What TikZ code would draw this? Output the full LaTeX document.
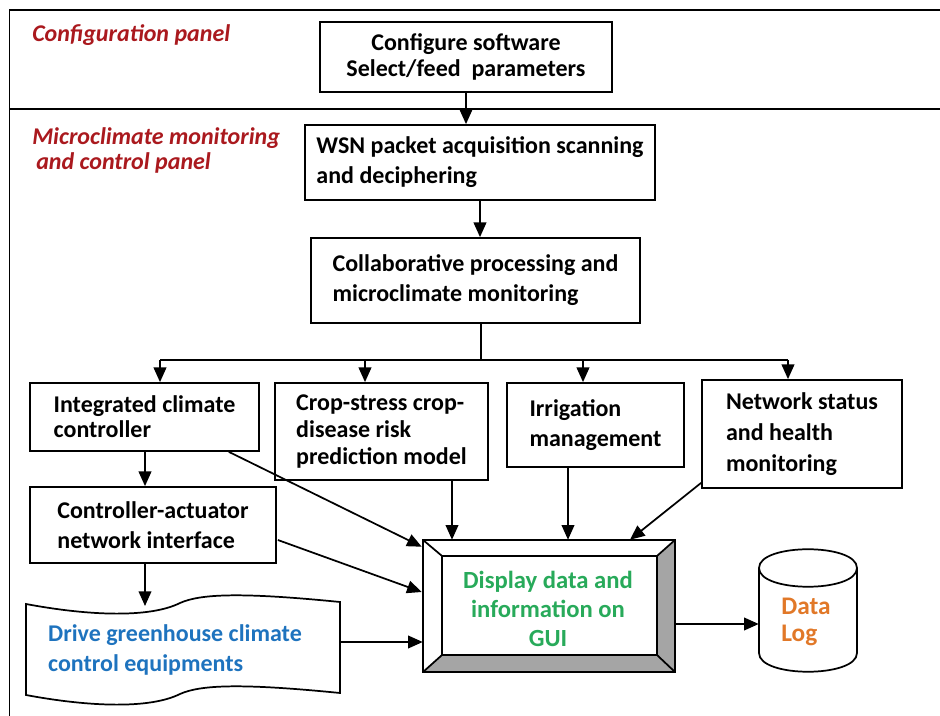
\documentclass[tikz,border=0pt]{standalone}
\usepackage{fontspec}
\setmainfont{Carlito}
\usetikzlibrary{arrows.meta,calc}
\definecolor{lblred}{RGB}{170,25,30}
\definecolor{guigreen}{RGB}{40,170,90}
\definecolor{drvblue}{RGB}{30,115,190}
\definecolor{logorange}{RGB}{225,120,40}
\definecolor{bevelgray}{RGB}{165,165,165}
\begin{document}
\begin{tikzpicture}[x=0.75pt,y=-0.75pt,
  box/.style={draw, line width=1.3pt, align=left, font=\bfseries\fontsize{18}{22.5}\selectfont, inner sep=0pt},
  lbl/.style={font=\bfseries\itshape\fontsize{18}{20}\selectfont, text=lblred, inner sep=0pt, anchor=west},
  arr/.style={line width=1.3pt, -{Triangle[length=11pt,width=9.5pt]}},
  ln/.style={line width=1.3pt}]
\useasboundingbox (0,0) rectangle (940,716);

% frame
\draw[ln] (9.5,716) -- (9.5,10) -- (940,10);
\draw[ln] (9.5,109) -- (940,109);

% panel labels
\node[lbl] (cfgpanel) at (32,35) {Configuration panel};
\node[lbl] (mcpanel) at (32,138) {Microclimate monitoring};
\node[lbl] (mcpanel2) at (36,163) {and control panel};

% boxes
\node[box, align=center, minimum width=219pt, minimum height=52.5pt,
      font=\bfseries\fontsize{18}{19.5}\selectfont] (cfg) at (466,57) {Configure software\\Select/feed\ \ parameters};
\node[box, minimum width=262.5pt, minimum height=56.25pt] (wsn) at (480,162.5) {WSN packet acquisition scanning\\and deciphering};
\node[box, minimum width=246.75pt, minimum height=63.75pt] (col) at (475.5,280.5) {Collaborative processing and\\microclimate monitoring};
\node[box, minimum width=171.75pt, minimum height=51pt,
      font=\bfseries\fontsize{18}{19}\selectfont] (icc) at (144.5,417) {Integrated climate\\controller};
\node[box, minimum width=159.75pt, minimum height=72.75pt,
      font=\bfseries\fontsize{18}{20.25}\selectfont] (crop) at (381.5,431.5) {Crop-stress crop-\\disease risk\\prediction model};
\node[box, minimum width=132.75pt, minimum height=63pt] (irr) at (595.5,425) {Irrigation\\management};
\node[box, minimum width=150pt, minimum height=81pt,
      font=\bfseries\fontsize{18}{23.25}\selectfont] (net) at (802,434) {Network status\\and health\\monitoring};
\node[box, minimum width=184.5pt, minimum height=57pt] (cai) at (153,525) {Controller-actuator\\network interface};

% GUI bevel box
\node[minimum width=189pt, minimum height=99pt, inner sep=0pt] (gui) at (549,606) {};
\coordinate (gi1) at ($(gui.north west)+(19,16)$);
\coordinate (gi2) at ($(gui.north east)+(-18,16)$);
\coordinate (gi3) at ($(gui.south east)+(-18,-17)$);
\coordinate (gi4) at ($(gui.south west)+(19,-17)$);
\fill[bevelgray] (gui.north east) -- (gi2) -- (gi3) -- (gui.south east) -- cycle;
\fill[bevelgray] (gui.south west) -- (gi4) -- (gi3) -- (gui.south east) -- cycle;
\draw[ln] (gui.north west) rectangle (gui.south east);
\draw[ln] (gi1) rectangle (gi3);
\draw[ln] (gui.north west) -- (gi1);
\draw[ln] (gui.north east) -- (gi2);
\draw[ln] (gui.south east) -- (gi3);
\draw[ln] (gui.south west) -- (gi4);
\node[align=center, inner sep=0pt, text=guigreen, font=\bfseries\fontsize{18.5}{22}\selectfont] (guitxt) at (548,609) {Display data and\\information on\\GUI};

% drive tape
\draw[ln] (26,604) .. controls (90,616) and (150,618) .. (180,603) .. controls (200,594) and (240,592) .. (340,602) -- (340,693) .. controls (240,683) and (200,685) .. (180,694) .. controls (150,709) and (90,707) .. (26,695) -- cycle;
\node[align=left, inner sep=0pt, text=drvblue, font=\bfseries\fontsize{18}{22}\selectfont] (drv) at (175,650) {Drive greenhouse climate\\control equipments};
\coordinate (drvtop) at (145,606);
\coordinate (drvright) at (341,642);

% data log cylinder
\draw[ln] (759,568) -- (759,653) .. controls (759,678) and (857,678) .. (857,653) -- (857,568);
\draw[ln] (759,568) .. controls (759,543) and (857,543) .. (857,568) .. controls (857,593) and (759,593) .. (759,568);
\node[minimum width=73.5pt, minimum height=93pt, inner sep=0pt] (log) at (808,610.5) {};
\node[align=left, inner sep=0pt, text=logorange, font=\bfseries\fontsize{19}{20}\selectfont] (logtxt) at (806,622) {Data\\Log};

% connectors
\draw[arr] (cfg.south) -- (cfg.south |- wsn.north);
\draw[arr] (wsn.south) -- (wsn.south |- col.north);
\coordinate (j) at (481,360);
\draw[ln] (j |- col.south) -- (j);
\coordinate (b1) at (160,360);
\coordinate (b2) at (365,360);
\coordinate (b3) at (583,360);
\coordinate (b4) at (788,360);
\draw[ln] (b1) -- (b4);
\draw[arr] (b1) -- (b1 |- icc.north);
\draw[arr] (b2) -- (b2 |- crop.north);
\draw[arr] (b3) -- (b3 |- irr.north);
\draw[arr] (b4) -- (b4 |- net.north);

\coordinate (c1) at (145,0);
\draw[arr] (c1 |- icc.south) -- (c1 |- cai.north);
\draw[arr] (c1 |- cai.south) -- (drvtop);

\coordinate (g1) at (452,0);
\coordinate (g2) at (568,0);
\draw[arr] (g1 |- crop.south) -- (g1 |- gui.north);
\draw[arr] (g2 |- irr.south) -- (g2 |- gui.north);
\draw[arr] ($(net.south west)+(0,-6)$) -- ($(gui.north)+(81,0)$);
\draw[arr] ($(icc.south east)+(-31,0)$) -- ($(gui.north west)+(-1,7)$);
\draw[arr] ($(cai.east)+(1,15)$) -- ($(gui.west)+(-1,-14)$);
\draw[arr] (drvright) -- (drvright -| gui.west);
\draw[arr] ($(gui.east)+(0,18)$) -- ($(log.west)+(0,13.5)$);
\end{tikzpicture}
\end{document}
